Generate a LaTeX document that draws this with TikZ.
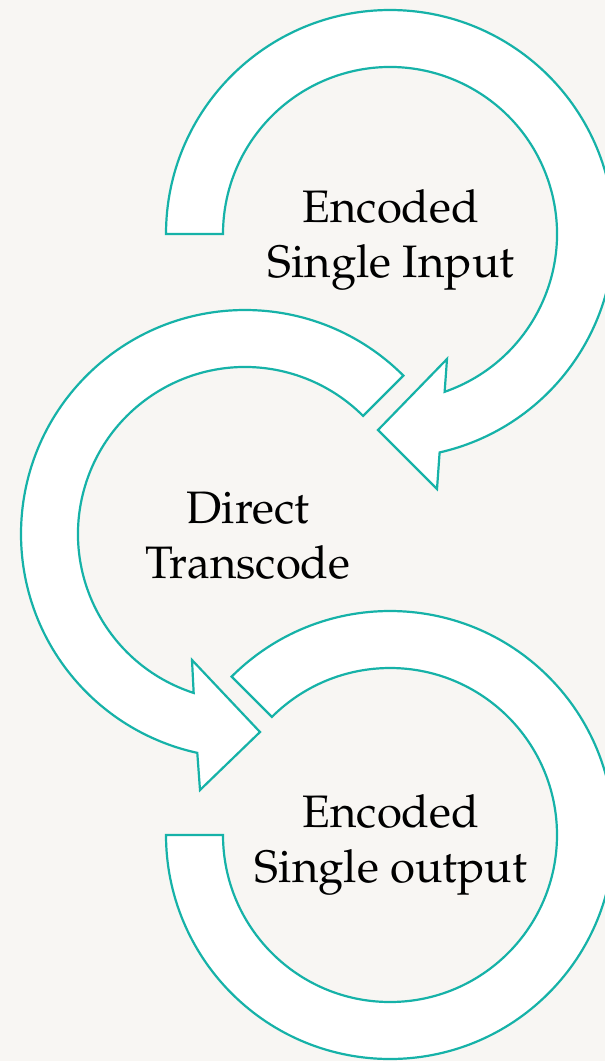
\documentclass[tikz,border=0pt]{standalone}
\usepackage[T1]{fontenc}
\usepackage{mathpazo}
\definecolor{tealline}{RGB}{22,178,168}
\definecolor{paper}{RGB}{248,246,243}
\tikzset{
  blockarrow/.style={draw=tealline, fill=white, line width=2.2pt, line join=miter},
  label/.style={font=\fontsize{45.5}{55}\selectfont, align=center, anchor=base, text=black, inner sep=0pt}
}
\begin{document}
\begin{tikzpicture}[x=1pt,y=1pt]
\useasboundingbox (0,0) rectangle (605,-1061);
\clip (0,0) rectangle (605,-1061);
\fill[paper] (0,0) rectangle (605,-1061);
% shape 1 (top)
\begin{scope}[shift={(390,-234)}]
\draw[blockarrow] (180:224) arc[start angle=180,end angle=-77.2,radius=224]
  -- (47,-255) -- (-12,-196) -- (57,-125)
  -- (-70.9:167) arc[start angle=-70.9,end angle=180,radius=167] -- cycle;
\end{scope}
% shape 2 (middle)
\begin{scope}[shift={(245,-534)}]
\draw[blockarrow] (45:224) arc[start angle=45,end angle=257.7,radius=224]
  -- (-45,-256) -- (15,-198) -- (-53,-126)
  -- (252.1:167) arc[start angle=252.1,end angle=45,radius=167] -- cycle;
\end{scope}
% shape 3 (bottom)
\begin{scope}[shift={(390,-835)}]
\draw[blockarrow] (135:224) arc[start angle=135,end angle=-180,radius=224]
  -- (-180:167) arc[start angle=-180,end angle=135,radius=167] -- cycle;
\end{scope}
\node[label] (t1) at (391,-277) {Encoded\\Single Input};
\node[label] (t2) at (248,-578) {Direct\\Transcode};
\node[label] (t3) at (391,-882) {Encoded\\Single output};
\end{tikzpicture}
\end{document}
